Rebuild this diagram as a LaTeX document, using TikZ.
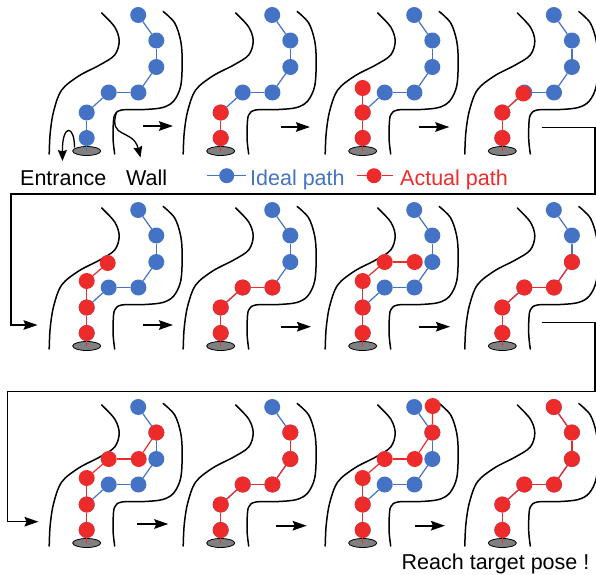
\documentclass[tikz,border=0pt]{standalone}
\usepackage{fontspec}
\setmainfont{Liberation Sans}
\usetikzlibrary{arrows.meta,shapes.geometric}
\definecolor{ideal}{RGB}{68,114,196}
\definecolor{actual}{RGB}{237,43,43}
\definecolor{basegray}{RGB}{128,128,128}
\tikzset{
  bnode/.style={circle, fill=ideal, minimum size=16pt, inner sep=0pt, outer sep=0pt},
  rnode/.style={circle, fill=actual, minimum size=16pt, inner sep=0pt, outer sep=0pt},
  bline/.style={draw=ideal, line width=1.2pt},
  rline/.style={draw=actual, line width=1.2pt},
  wall/.style={draw=black, line width=1.5pt, line cap=round},
  basepad/.style={ellipse, draw=black, fill=basegray, minimum width=28pt, minimum height=9pt, inner sep=0pt, line width=0.8pt},
  bigtip/.style={-{Stealth[length=14pt,width=9.5pt,inset=2pt]}},
  flow/.style={draw=black, line width=1.8pt, bigtip},
  route/.style={draw=black, line width=1.5pt},
  hint/.style={draw=black, line width=1.3pt, -{Stealth[length=11pt,width=9pt,inset=1.5pt]}},
  lbl/.style={inner sep=0pt, anchor=base west, font=\fontsize{21.5}{24}\selectfont},
}
\newcommand{\robotpanel}[5]{%
\begin{scope}[shift={(#2,#3)}]
  \draw[wall] plot[smooth, tension=0.55] coordinates {(15,-138) (28,-124) (32.5,-110) (28,-96) (13,-86) (-8,-75) (-25,-61) (-33,-40) (-36.5,-18) (-37.5,3)};
  \draw[wall] plot[smooth, tension=0.55] coordinates {(76.5,-139.5) (88,-128) (94,-110) (95.5,-90) (94,-65) (87,-50) (76,-43.5) (58,-41.5) (35,-41) (28,-36) (26.5,-25) (26.5,-10) (28,3)};
  \node[basepad] (#1e) at (0,0) {};
  \foreach \p [count=\i from 0] in {(0,-13),(0,-38.5),(22,-58.5),(51.7,-58.5),(69.6,-84),(69.6,-110.5),(51.5,-136)}
     \node[bnode] (#1b\i) at \p {};
  \draw[bline] (#1e.center) -- (#1b0);
  \foreach \i [evaluate=\i as \j using int(\i-1)] in {1,...,6} \draw[bline] (#1b\j) -- (#1b\i);
  \ifnum#4>-1
    \foreach \p [count=\i from 0] in {#5} \node[rnode] (#1r\i) at \p {};
    \draw[rline] (#1e.center) -- (#1r0);
    \ifnum#4>0
      \foreach \i [evaluate=\i as \j using int(\i-1)] in {1,...,#4} \draw[rline] (#1r\j) -- (#1r\i);
    \fi
  \fi
\end{scope}}
\begin{document}
\begin{tikzpicture}[x=1pt, y=-1pt]
\useasboundingbox (0,0) rectangle (596,574);
% row 1
\robotpanel{Pa}{86.7}{151}{-1}{}
\robotpanel{Pb}{220.7}{151}{1}{(0,-13),(0,-38.5)}
\robotpanel{Pc}{362.7}{151}{2}{(0,-13),(0,-38.5),(0,-63)}
\robotpanel{Pd}{502.3}{151}{2}{(0,-13),(0,-38.5),(21,-57.5)}
% row 2
\robotpanel{Pe}{86.7}{346}{3}{(0,-13),(0,-38.5),(0,-65),(21,-83)}
\robotpanel{Pf}{220.7}{346}{3}{(0,-13),(0,-38.5),(22,-58.5),(51.7,-58.5)}
\robotpanel{Pg}{362.7}{346}{4}{(0,-13),(0,-38.5),(0,-65),(22,-84),(52,-84)}
\robotpanel{Ph}{502.3}{346}{4}{(0,-13),(0,-38.5),(22,-58.5),(51.7,-58.5),(69.6,-84)}
% row 3
\robotpanel{Pi}{86.7}{543}{5}{(0,-13),(0,-38.5),(0,-65),(22,-84),(52,-84),(69.6,-110.5)}
\robotpanel{Pj}{220.7}{543}{5}{(0,-13),(0,-38.5),(22,-58.5),(51.7,-58.5),(69.6,-84),(69.6,-110.5)}
\robotpanel{Pk}{362.7}{543}{6}{(0,-13),(0,-38.5),(0,-65),(22,-84),(52,-84),(69.6,-110.5),(70,-137)}
\robotpanel{Pl}{502.3}{543}{6}{(0,-13),(0,-38.5),(22,-58.5),(51.7,-58.5),(69.6,-84),(69.6,-110.5),(51.5,-136)}
% panel 1 hints
\coordinate (ens) at (74.5,147.5);
\coordinate (ent) at (62.5,161);
\draw[hint] (ens) .. controls (74.5,124) and (62,124) .. (ent);
\coordinate (wls) at (116.5,112);
\coordinate (wlt) at (140.5,157.5);
\draw[hint] (wls) .. controls (108,140) and (133,128) .. (wlt);
\node[lbl] (tEnt) at (20,185) {Entrance};
\node[lbl] (tWall) at (126,185) {Wall};
% legend
\coordinate (lb1) at (206.7,175.7);
\node[bnode, minimum size=15pt] (lgb) at (226.7,175.7) {};
\coordinate (lb2) at (246,175.7);
\draw[bline] (lb1) -- (lgb) -- (lb2);
\node[lbl, text=ideal] (tIdeal) at (250,185) {Ideal path};
\coordinate (lr1) at (357,175.7);
\node[rnode, minimum size=15pt] (lgr) at (374,175.7) {};
\coordinate (lr2) at (393,175.7);
\draw[rline] (lr1) -- (lgr) -- (lr2);
\node[lbl, text=actual] (tActual) at (400,185) {Actual path};
\node[lbl] (tReach) at (401.5,569) {Reach target pose !};
% flow arrows
\coordinate (a1s) at (142.7,126); \coordinate (a1t) at (173,126);
\coordinate (a2s) at (281,127); \coordinate (a2t) at (310,127);
\coordinate (a3s) at (419.3,127); \coordinate (a3t) at (449.3,127);
\coordinate (a4s) at (142.7,325); \coordinate (a4t) at (173,325);
\coordinate (a5s) at (281,326.7); \coordinate (a5t) at (311,326.7);
\coordinate (a6s) at (419,326.7); \coordinate (a6t) at (450,326.7);
\coordinate (a7s) at (137.3,524); \coordinate (a7t) at (168.3,524);
\coordinate (a8s) at (276,525.7); \coordinate (a8t) at (306.7,525.7);
\coordinate (a9s) at (415,525.7); \coordinate (a9t) at (445,525.7);
\foreach \k in {1,...,9} \draw[flow] (a\k s) -- (a\k t);
% row connectors
\coordinate (c1s) at (541.7,127.7); \coordinate (c1t) at (37.5,325);
\draw[route, bigtip] (c1s) -- (595,127.7) -- (595,194) -- (11,194) -- (11,325) -- (c1t);
\coordinate (c2s) at (541.7,322.7); \coordinate (c2t) at (38.5,521.7);
\draw[route, bigtip] (c2s) -- (595,322.7) -- (595,391.7) -- (7.3,391.7) -- (7.3,521.7) -- (c2t);
\end{tikzpicture}
\end{document}
